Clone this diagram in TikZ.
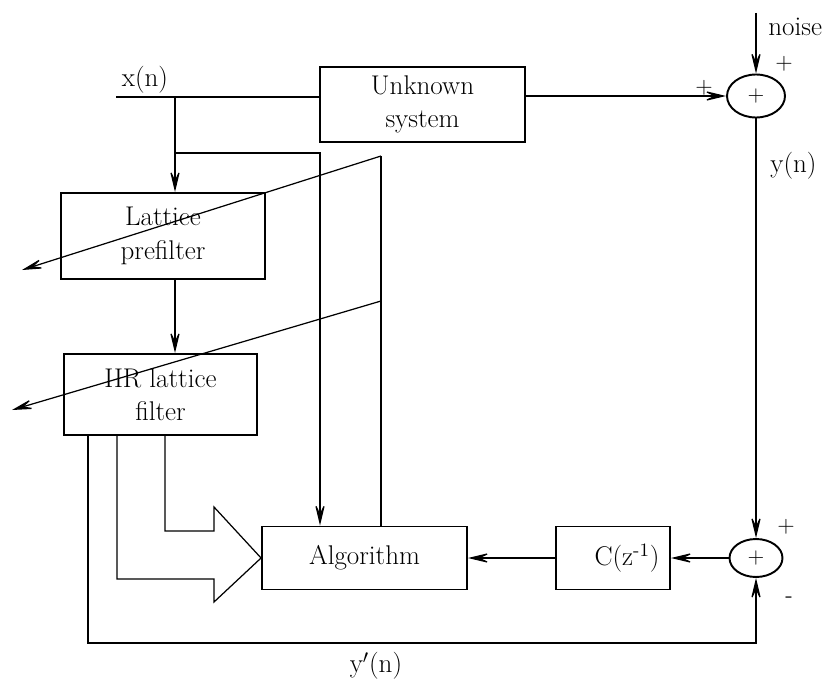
\documentclass[tikz,border=0pt]{standalone}
\usetikzlibrary{shapes.geometric,arrows.meta,positioning}
\begin{document}
\begin{tikzpicture}[
    x=0.02cm, y=-0.02cm, line width=0.7pt,
    bloque/.style={draw, line width=1.1pt, align=center, font=\fontsize{15.4}{19}\selectfont},
    suma/.style={draw, line width=1.1pt, ellipse, inner sep=0pt, font=\fontsize{12.5}{14}\selectfont},
    etiq/.style={font=\fontsize{15.4}{19}\selectfont, inner sep=1pt},
    signo/.style={font=\fontsize{13}{15}\selectfont, inner sep=0pt},
    flecha/.style={-{Stealth[length=5mm, width=2.4mm, inset=2.6mm]}}
  ]
  \useasboundingbox (0,0) rectangle (838,679);

  \node[bloque, minimum width=4.1cm, minimum height=1.5cm] (unk) at (422.5,104.5) {Unknown\\system};
  \node[bloque, minimum width=4.08cm, minimum height=1.72cm] (pre) at (163,236) {Lattice\\prefilter};
  \node[bloque, minimum width=3.86cm, minimum height=1.62cm] (iir) at (160.5,394.5) {IIR lattice\\filter};
  \node[bloque, minimum width=4.1cm, minimum height=1.26cm] (alg) at (364.5,558) {Algorithm};
  \node[bloque, minimum width=2.28cm, minimum height=1.26cm] (cz) at (613,558) {\hspace*{0.56cm}C(z\textsuperscript{-1})};
  \node[suma, minimum width=1.16cm, minimum height=0.86cm] (s1) at (756,96) {+};
  \node[suma, minimum width=1.06cm, minimum height=0.76cm] (s2) at (756,558) {+};

  \coordinate (xin) at (116,97);
  \coordinate (b1) at (175,97);
  \coordinate (b2) at (175,153);
  \coordinate (b3) at (320,153);
  \coordinate (noisein) at (756,13);
  \coordinate (tap1) at (381,156);
  \coordinate (tap2) at (381,301);
  \coordinate (w1) at (22,270);
  \coordinate (w2) at (12,410);
  \coordinate (yc) at (88,643);

  % signal path
  \draw[line width=1.1pt] (xin) -- (xin -| unk.west);
  \draw[flecha] (s1 -| unk.east) -- (s1.west);
  \draw[flecha] (noisein) -- (s1.north);
  \draw[flecha] (s1.south) -- (s2.north);
  \draw[flecha] (s2.west) -- (cz.east);
  \draw[flecha] (cz.west) -- (alg.east);
  \draw[flecha] (b1) -- (b1 |- pre.north);
  \draw[flecha] (b1 |- pre.south) -- (b1 |- iir.north);
  \draw[flecha] (b2) -- (b3) -- (b3 |- alg.north);
  \draw (tap1) -- (tap1 |- alg.north);
  \draw[flecha] (tap1) -- (w1);
  \draw[flecha] (tap2) -- (w2);
  \draw[flecha] (iir.south -| yc) -- (yc) -| (s2.south);

  % wide arrow into the algorithm
  \draw (117,435) -- (117,579) -- (214,579) -- (214,602) -- (alg.west)
    -- (214,507) -- (214,531) -- (165,531) -- (165,435);

  \node[etiq, anchor=south] (xlab) at (145,96) {x(n)};
  \node[etiq, anchor=west] (nlab) at (766,27) {noise};
  \node[etiq, anchor=west] (ylab) at (768,166) {y(n)};
  \node[etiq] (yplab) at (376,666) {y$'$(n)};
  \node[signo] (p1) at (704,88) {+};
  \node[signo] (p2) at (784,64) {+};
  \node[signo] (p3) at (786,527) {+};
  \node[signo] (m1) at (789,600) {-};
\end{tikzpicture}
\end{document}
